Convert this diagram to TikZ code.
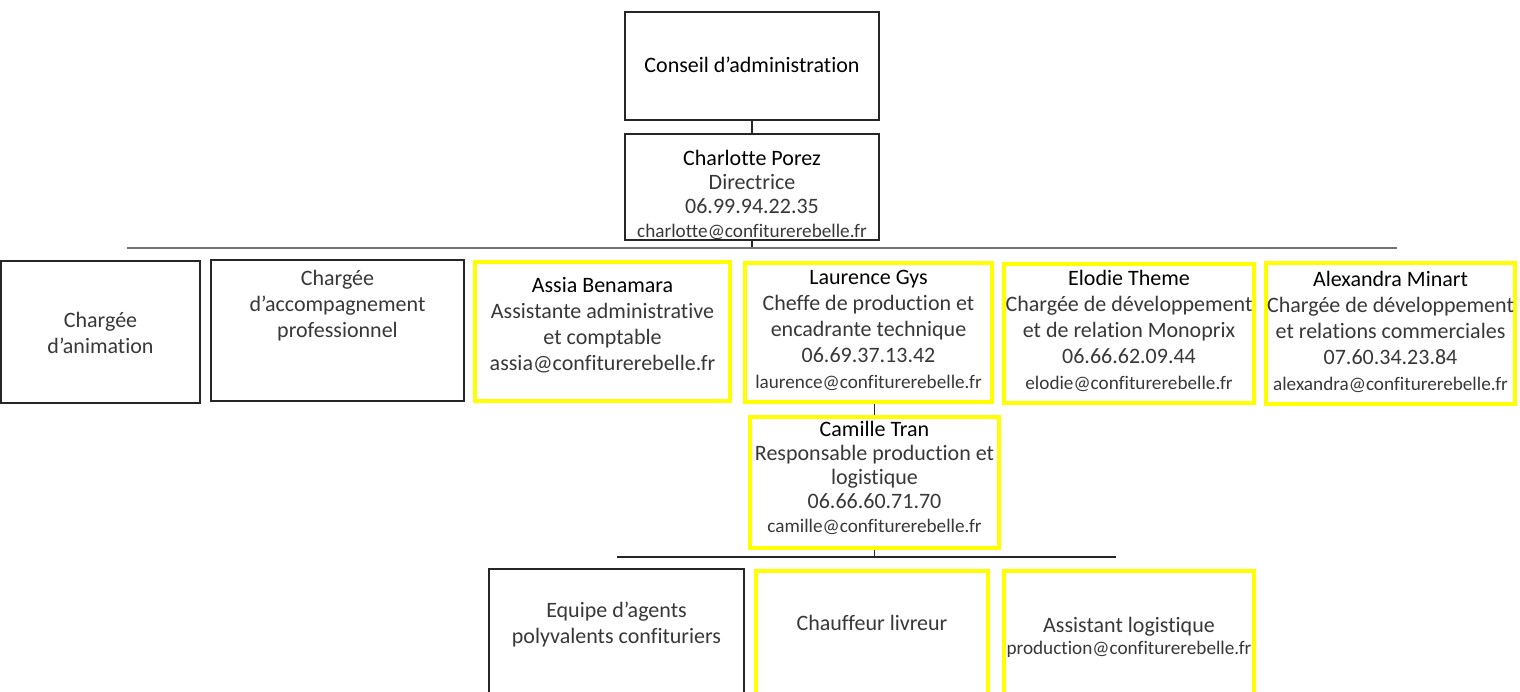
\documentclass[tikz,border=0pt]{standalone}
\usepackage{fontspec}
\setmainfont{Carlito}[Ligatures={TeX,NoCommon}]
\usetikzlibrary{calc}

\definecolor{hilite}{RGB}{255,255,0}
\newdimen\pxu \pxu=0.5pt
% width, height, top padding (all in px), then the lines
\newcommand{\orgcell}[4]{\parbox[c][#2\pxu][t]{#1\pxu}{\centering\fontsize{11}{13}\selectfont\color{black!78}\vspace*{#3\pxu}#4\par}}
\newcommand{\who}[1]{{\color{black}#1}}
\newcommand{\mail}[1]{{\fontsize{9.6}{11}\selectfont #1}}

\tikzset{
  plainbox/.style={draw=black!85, line width=0.8pt, fill=white, inner sep=0pt},
  staffbox/.style={draw=hilite, line width=2pt, fill=white, inner sep=0pt},
  busline/.style={draw=black!55, line width=0.6pt},
  link/.style={draw=black!85, line width=0.6pt}
}

\begin{document}
\begin{tikzpicture}[x=0.5pt,y=-0.5pt]
            \clip (0,0) rectangle (1520,691);
            \coordinate (busL) at (127,248);
            \coordinate (busR) at (1397,248);
            \coordinate (subL) at (617,557);
            \coordinate (subR) at (1116,557);

            \node[plainbox] (board) at (752,66) {\orgcell{254}{108}{45}{\who{Conseil d’administration}}};
            \node[plainbox] (director) at (752,187) {\orgcell{254}{106}{16}{\fontsize{11}{12}\selectfont
                \who{Charlotte Porez}\\Directrice\\06.99.94.22.35\\\mail{charlotte@confiturerebelle.fr}}};

            \node[plainbox] (animation) at (100.5,332) {\orgcell{199}{142}{51}{Chargée\\d’animation}};
            \node[plainbox] (coaching) at (337.5,330.5) {\orgcell{253}{141}{10}{Chargée\\d’accompagnement\\professionnel}};
            \node[staffbox] (assia) at (602.5,331.5) {\orgcell{255}{139}{15}{\who{Assia Benamara}\\Assistante administrative\\et comptable\\assia@confiturerebelle.fr}};
            \node[staffbox] (laurence) at (868.5,332.5) {\orgcell{247}{139}{7}{\who{Laurence Gys}\\Cheffe de production et\\encadrante technique\\06.69.37.13.42\\\mail{laurence@confiturerebelle.fr}}};
            \node[staffbox] (elodie) at (1129,333.5) {\orgcell{250}{139}{6}{\who{Elodie Theme}\\Chargée de développement\\et de relation Monoprix\\06.66.62.09.44\\\mail{elodie@confiturerebelle.fr}}};
            \node[staffbox] (alexandra) at (1390.5,333.5) {\orgcell{249}{141}{8}{\who{Alexandra Minart}\\Chargée de développement\\et relations commerciales\\07.60.34.23.84\\\mail{alexandra@confiturerebelle.fr}}};

            \node[staffbox] (camille) at (874.5,482.5) {\orgcell{249}{131}{4}{\fontsize{11}{12}\selectfont
                \who{Camille Tran}\\Responsable production et\\logistique\\06.66.60.71.70\\\mail{camille@confiturerebelle.fr}}};

            % bottom row runs off the page
            \node[plainbox] (crew) at (616.5,669) {\orgcell{255}{200}{33}{Equipe d’agents\\polyvalents confituriers}};
            \node[staffbox] (driver) at (872,671) {\orgcell{232}{200}{44}{Chauffeur livreur}};
            \node[staffbox] (logistics) at (1129,671) {\orgcell{250}{200}{46}{\fontsize{11}{11}\selectfont
                Assistant logistique\\\mail{production@confiturerebelle.fr}}};

            \draw[link] (board.south) -- (director.north);
            \draw[link] (director.south) -- (director.south |- busL);
            \draw[busline] (busL) -- (busR);
            \draw[link] (camille.north |- laurence.south) -- (camille.north);
            \draw[link] (camille.south) -- (camille.south |- subL);
            \draw[link] (subL) -- (subR);
\end{tikzpicture}
\end{document}
